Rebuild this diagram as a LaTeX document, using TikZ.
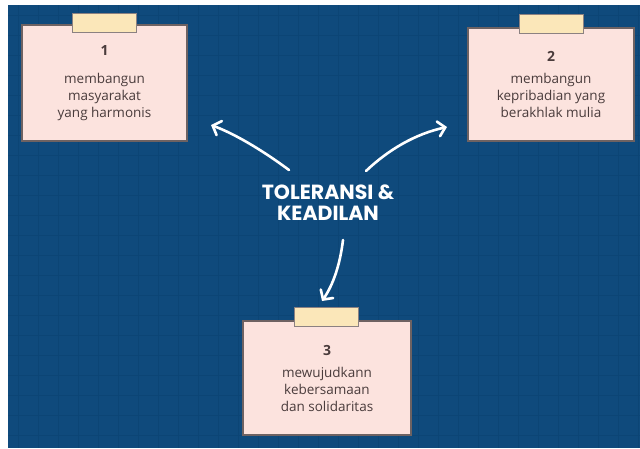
\documentclass[tikz,border=0pt]{standalone}
\usepackage{fontspec}
\setmainfont{Open Sans}
\newfontfamily\titlefont{Poppins}
\usetikzlibrary{arrows.meta}
\usetikzlibrary{positioning}
\definecolor{board}{HTML}{0F4A7C}
\definecolor{gridline}{HTML}{0C4575}
\definecolor{cardpink}{HTML}{FCE3DE}
\definecolor{cardedge}{HTML}{6E6262}
\definecolor{cardtext}{HTML}{4A3C3C}
\definecolor{tapeyellow}{HTML}{FBE7B9}
\tikzset{
  card/.style={draw=cardedge, line width=1.6pt, fill=cardpink, align=center,
    font=\fontsize{13.5}{17}\selectfont, text=cardtext, inner sep=0pt},
  tape/.style={draw=cardedge!80, line width=1pt, fill=tapeyellow,
    minimum width=64pt, minimum height=19pt, inner sep=0pt},
  title/.style={text=white, align=center, font=\titlefont\bfseries\fontsize{20.5}{21}\selectfont},
  arrow/.style={draw=white, line width=2.6pt, line cap=round,
    -{Straight Barb[length=7pt, width=15pt, line cap=round]}},
}
\newcommand{\cardnum}[2]{{\bfseries\fontsize{14}{17}\selectfont #1}\\[#2]}

\begin{document}
\begin{tikzpicture}[x=1pt, y=-1pt]
	\useasboundingbox (0,0) rectangle (640,448);
	\fill[board] (8,5) rectangle (640,448);
	% board grid
	\foreach \gx in {18,38,...,638} {
		\draw[gridline, line width=0.7pt] (\gx,5) -- (\gx,448);
	}
	\foreach \gy in {15,35,...,445} {
		\draw[gridline, line width=0.7pt] (8,\gy) -- (640,\gy);
	}

	% cards
	\node[card, minimum width=165pt, minimum height=116pt] (C1) at (104.5,83)
		{\cardnum{1}{11pt} membangun\\ masyarakat\\ yang harmonis};
	\node[card, minimum width=166pt, minimum height=113pt] (C2) at (551,84.5)
		{\cardnum{2}{5pt} membangun\\ kepribadian yang\\ berakhlak mulia};
	\node[card, minimum width=168pt, minimum height=114pt] (C3) at (327,378)
		{\cardnum{3}{5pt} mewujudkann\\ kebersamaan\\ dan solidaritas};

	% tapes
	\node[tape] (T1) at (104,23) {};
	\node[tape] (T2) at (551,24) {};
	\node[tape] (T3) at (326,317) {};

	% center title
	\node[title] (K) at (328,203) {TOLERANSI \&\\KEADILAN};

	% arrow ends
	\coordinate (S1) at (289,170);
	\coordinate (E1) at (211,125);
	\coordinate (S2) at (366,171);
	\coordinate (E2) at (447,127);
	\coordinate (S3) at (343,240);
	\coordinate (E3) at (322,301);

	\draw[arrow] (S1) .. controls (262,150) and (235,134) .. (E1);
	\draw[arrow] (S2) .. controls (388,150) and (415,134) .. (E2);
	\draw[arrow] (S3) .. controls (340,265) and (333,285) .. (E3);
\end{tikzpicture}
\end{document}
